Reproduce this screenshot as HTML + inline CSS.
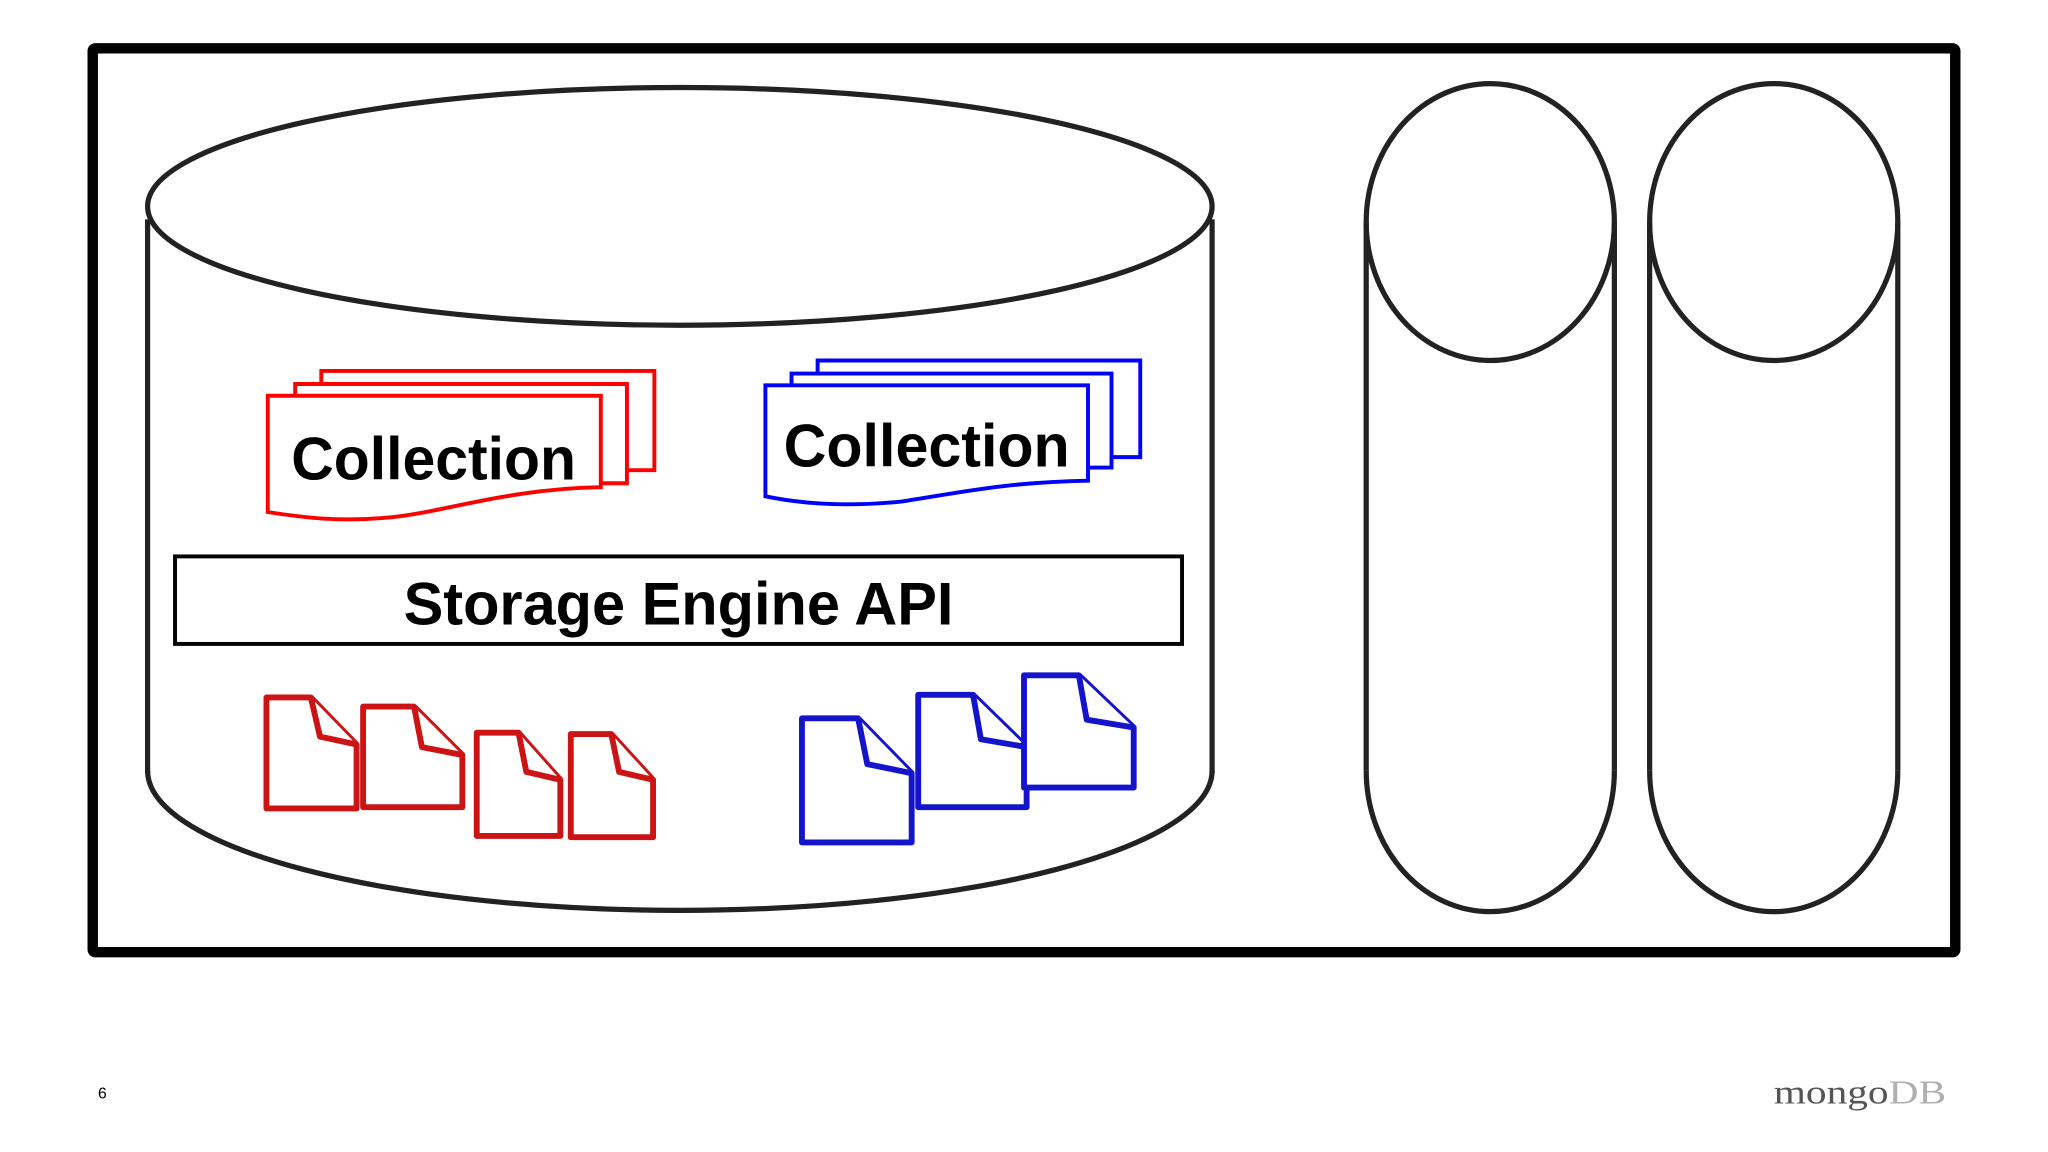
<!DOCTYPE html>
<html><head><style>html,body{margin:0;padding:0;background:#fff;}svg{display:block}</style></head>
<body>
<svg width="2048" height="1152" viewBox="0 0 1568 882" xmlns="http://www.w3.org/2000/svg">
<rect x="0" y="0" width="1568" height="882" fill="#fff"/>
<rect x="71" y="37" width="1426" height="692" fill="none" stroke="#000" stroke-width="8" rx="2"/>
<g fill="none" stroke="#222" stroke-width="4">
<ellipse cx="520.5" cy="158" rx="407.5" ry="91"/>
<line x1="113" y1="168" x2="113" y2="592"/>
<line x1="928" y1="168" x2="928" y2="592"/>
<path d="M113 590 A407.5 107 0 0 0 928 590"/>
<ellipse cx="1141" cy="170" rx="95" ry="106"/>
<line x1="1046" y1="170" x2="1046" y2="590"/>
<line x1="1236" y1="170" x2="1236" y2="590"/>
<path d="M1046 590 A95 108 0 0 0 1236 590"/>
<ellipse cx="1358" cy="170" rx="95" ry="106"/>
<line x1="1263" y1="170" x2="1263" y2="590"/>
<line x1="1453" y1="170" x2="1453" y2="590"/>
<path d="M1263 590 A95 108 0 0 0 1453 590"/>
</g>
<g fill="#fff" stroke="#f00" stroke-width="3">
<path d="M246 294 V284 H501 V360 H480"/>
<path d="M226 303 V294 H480 V370 H460"/>
<path d="M205 303 H460 V373 C390 374 340 392 300 396 C260 400 230 396 205 392 Z"/>
</g>
<text x="223" y="367" textLength="218" lengthAdjust="spacingAndGlyphs" font-family="Liberation Sans, sans-serif" font-weight="bold" font-size="46" fill="#000">Collection</text>
<g fill="#fff" stroke="#00f" stroke-width="3">
<path d="M626 286 V276 H873 V350 H851"/>
<path d="M606 295 V286 H851 V358 H833"/>
<path d="M586 295 H833 V368 C770 369 730 378 690 384 C650 388 615 386 586 380 Z"/>
</g>
<text x="600" y="357" textLength="219" lengthAdjust="spacingAndGlyphs" font-family="Liberation Sans, sans-serif" font-weight="bold" font-size="46" fill="#000">Collection</text>
<rect x="134" y="426" width="771" height="67" fill="none" stroke="#000" stroke-width="3"/>
<text x="309" y="478" textLength="421" lengthAdjust="spacingAndGlyphs" font-family="Liberation Sans, sans-serif" font-weight="bold" font-size="46" fill="#000">Storage Engine API</text>
<g fill="#fff" stroke="#cc1414" stroke-width="4.5" stroke-linejoin="round">
<path d="M204 534 H238 L273 570 V619 H204 Z"/><path d="M238 534 L245 564 L273 570"/>
<path d="M278 541 H317 L354 578 V618 H278 Z"/><path d="M317 541 L323 572 L354 578"/>
<path d="M365 561 H397 L429 597 V640 H365 Z"/><path d="M397 561 L403 591 L429 597"/>
<path d="M437 562 H468 L500 597 V641 H437 Z"/><path d="M468 562 L474 591 L500 597"/>
</g>
<g fill="#fff" stroke="#1414cc" stroke-width="4.5" stroke-linejoin="round">
<path d="M614 550 H657 L698 592 V645 H614 Z"/><path d="M657 550 L664 585 L698 592"/>
<path d="M703 532 H745 L786 572 V618 H703 Z"/><path d="M745 532 L751 566 L786 572"/>
<path d="M784 517 H826 L868 557 V603 H784 Z"/><path d="M826 517 L832 551 L868 557"/>
</g>
<text x="75" y="841" font-family="Liberation Sans, sans-serif" font-size="12" fill="#000">6</text>
<text x="1358" y="845" textLength="132" lengthAdjust="spacingAndGlyphs" font-family="Liberation Serif, serif" font-size="26" fill="#555">mongo<tspan fill="#b0b0b0">DB</tspan></text>
</svg>
</body></html>
